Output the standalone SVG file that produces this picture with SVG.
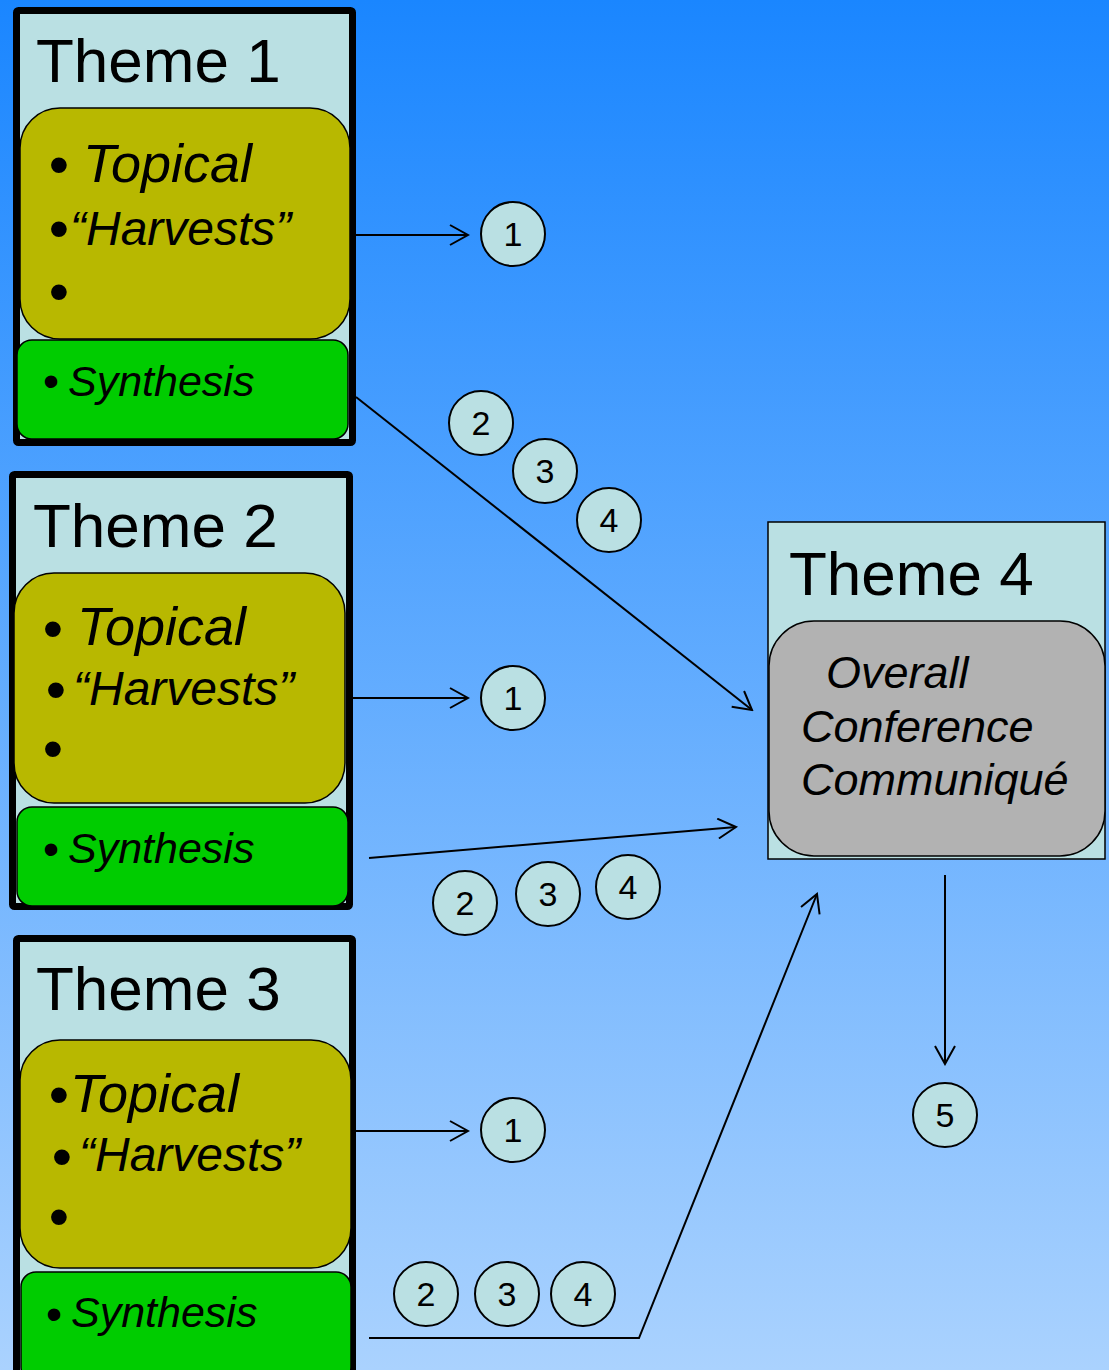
<svg xmlns="http://www.w3.org/2000/svg" width="1109" height="1370" viewBox="0 0 1109 1370">
<defs>
<linearGradient id="bg" x1="0" y1="0" x2="0" y2="1">
<stop offset="0" stop-color="#1a86ff"/>
<stop offset="1" stop-color="#aad2fe"/>
</linearGradient>
<marker id="ah" markerUnits="userSpaceOnUse" markerWidth="22" markerHeight="22" viewBox="0 0 22 22" refX="20" refY="11" orient="auto">
<path d="M2,1 L20,11 L2,21" fill="none" stroke="#000" stroke-width="2"/>
</marker>
</defs>
<style>
.frame{fill:#bae0e3;stroke:#000;stroke-width:7;stroke-linejoin:round}
.frame4{fill:#bae0e3;stroke:#000;stroke-width:1.5}
.olive{fill:#b8b800;stroke:#000;stroke-width:1.5}
.green{fill:#00cc00;stroke:#000;stroke-width:1.5}
.grey{fill:#b2b2b2;stroke:#000;stroke-width:1.5}
.title{font-family:"Liberation Sans",Arial,sans-serif;font-size:62px;fill:#000}
.it{font-family:"Liberation Sans",Arial,sans-serif;font-style:italic;fill:#000}
.bul{font-family:"Liberation Sans",Arial,sans-serif;fill:#000;text-anchor:middle}
.num circle{fill:#bae0e3;stroke:#000;stroke-width:2}
.num text{font-family:"Liberation Sans",Arial,sans-serif;font-size:34px;text-anchor:middle;fill:#000}
.conn line,.conn polyline{stroke:#000;stroke-width:2;fill:none}
</style>
<rect x="0" y="0" width="1109" height="1370" fill="url(#bg)"/>

<g id="theme1">
<rect class="frame" x="16.5" y="10.5" width="336" height="432" rx="2"/>
<text class="title" x="36" y="82">Theme 1</text>
<rect class="olive" x="20" y="108" width="330" height="231" rx="40"/>
<text class="bul" x="59" y="184" font-size="58">•</text>
<text class="it" x="83" y="182" font-size="54">Topical</text>
<text class="bul" x="59" y="248" font-size="58">•</text>
<text class="it" x="70" y="245" font-size="48">“Harvests”</text>
<text class="bul" x="59" y="311" font-size="58">•</text>
<rect class="green" x="17" y="340" width="331" height="99" rx="15"/>
<text class="bul" x="51" y="397" font-size="46">•</text>
<text class="it" x="68" y="396" font-size="43">Synthesis</text>
</g>

<g id="theme2">
<rect class="frame" x="12.5" y="474.5" width="337" height="432" rx="2"/>
<text class="title" x="33" y="547">Theme 2</text>
<rect class="olive" x="14" y="573" width="331" height="230" rx="40"/>
<text class="bul" x="53" y="648" font-size="58">•</text>
<text class="it" x="77" y="645" font-size="54">Topical</text>
<text class="bul" x="56" y="709" font-size="58">•</text>
<text class="it" x="73" y="705" font-size="48">“Harvests”</text>
<text class="bul" x="53" y="768" font-size="58">•</text>
<rect class="green" x="17" y="807" width="331" height="99" rx="15"/>
<text class="bul" x="51" y="865" font-size="46">•</text>
<text class="it" x="68" y="863" font-size="43">Synthesis</text>
</g>

<g id="theme3">
<rect class="frame" x="16.5" y="938.5" width="336" height="445" rx="2"/>
<text class="title" x="36" y="1010">Theme 3</text>
<rect class="olive" x="20" y="1040" width="331" height="228" rx="40"/>
<text class="bul" x="59" y="1114" font-size="58">•</text>
<text class="it" x="70" y="1112" font-size="54">Topical</text>
<text class="bul" x="62" y="1176" font-size="58">•</text>
<text class="it" x="79" y="1171" font-size="48">“Harvests”</text>
<text class="bul" x="59" y="1236" font-size="58">•</text>
<rect class="green" x="21" y="1272" width="330" height="110" rx="15"/>
<text class="bul" x="54" y="1330" font-size="46">•</text>
<text class="it" x="71" y="1327" font-size="43">Synthesis</text>
</g>

<g id="theme4">
<rect class="frame4" x="768" y="522" width="337" height="337"/>
<text class="title" x="789" y="595">Theme 4</text>
<rect class="grey" x="769" y="621" width="336" height="235" rx="45"/>
<text class="it" font-size="45" x="826" y="688">Overall</text>
<text class="it" font-size="45" x="801" y="742">Conference</text>
<text class="it" font-size="45" x="801" y="795">Communiqué</text>
</g>

<g id="connectors" class="conn">
<line x1="356" y1="235" x2="468" y2="235" marker-end="url(#ah)"/>
<line x1="356" y1="397" x2="752" y2="710" marker-end="url(#ah)"/>
<line x1="352" y1="698" x2="468" y2="698" marker-end="url(#ah)"/>
<line x1="369" y1="858" x2="736" y2="827" marker-end="url(#ah)"/>
<line x1="356" y1="1131" x2="468" y2="1131" marker-end="url(#ah)"/>
<polyline points="369,1338 639,1338 817,894" marker-end="url(#ah)"/>
<line x1="945" y1="875" x2="945" y2="1064" marker-end="url(#ah)"/>
</g>

<g id="n1a" class="num"><circle cx="513" cy="234" r="32"/><text x="513" y="246">1</text></g>
<g id="n2a" class="num"><circle cx="481" cy="423" r="32"/><text x="481" y="435">2</text></g>
<g id="n3a" class="num"><circle cx="545" cy="471" r="32"/><text x="545" y="483">3</text></g>
<g id="n4a" class="num"><circle cx="609" cy="520" r="32"/><text x="609" y="532">4</text></g>
<g id="n1b" class="num"><circle cx="513" cy="698" r="32"/><text x="513" y="710">1</text></g>
<g id="n2b" class="num"><circle cx="465" cy="903" r="32"/><text x="465" y="915">2</text></g>
<g id="n3b" class="num"><circle cx="548" cy="894" r="32"/><text x="548" y="906">3</text></g>
<g id="n4b" class="num"><circle cx="628" cy="887" r="32"/><text x="628" y="899">4</text></g>
<g id="n1c" class="num"><circle cx="513" cy="1130" r="32"/><text x="513" y="1142">1</text></g>
<g id="n2c" class="num"><circle cx="426" cy="1294" r="32"/><text x="426" y="1306">2</text></g>
<g id="n3c" class="num"><circle cx="507" cy="1294" r="32"/><text x="507" y="1306">3</text></g>
<g id="n4c" class="num"><circle cx="583" cy="1294" r="32"/><text x="583" y="1306">4</text></g>
<g id="n5" class="num"><circle cx="945" cy="1115" r="32"/><text x="945" y="1127">5</text></g>
</svg>
